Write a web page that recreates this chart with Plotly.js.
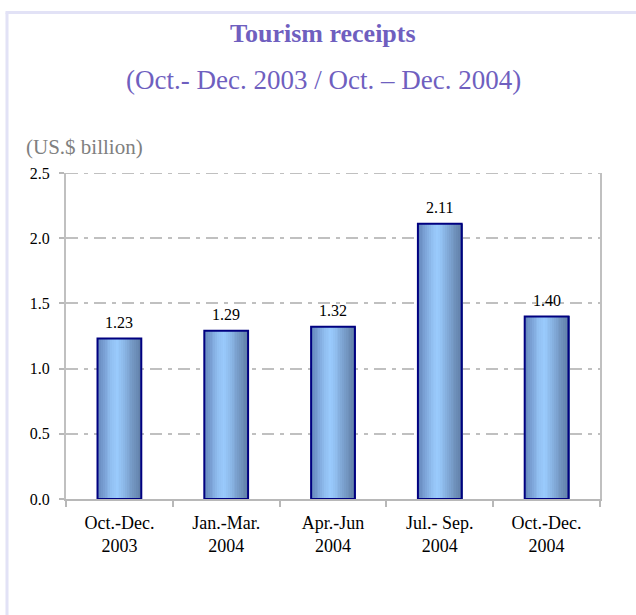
<!DOCTYPE html>
<html>
<head>
<meta charset="utf-8">
<script src="https://cdn.plot.ly/plotly-3.0.1.min.js"></script>
<style>html,body{margin:0;padding:0;background:#fff}#chart{width:636px;height:615px}</style>
</head>
<body>
<div id="chart"></div>
<script>
// ---- data ----
const categories = ["Oct.-Dec.<br>2003", "Jan.-Mar.<br>2004", "Apr.-Jun<br>2004", "Jul.- Sep.<br>2004", "Oct.-Dec.<br>2004"];
const receipts = [1.23, 1.29, 1.32, 2.11, 1.40];
const valueLabels = ["1.23", "1.29", "1.32", "2.11", "1.40"];
const yTickVals = [0, 0.5, 1.0, 1.5, 2.0, 2.5];
const yMax = 2.5;
const titleText = "Tourism receipts";
const subtitleText = "(Oct.- Dec. 2003 / Oct. – Dec. 2004)";
const unitText = "(US.$ billion)";

// ---- styling ----
const serif = "Liberation Serif, Times New Roman, serif";
const W = 636, H = 615;
const M = {l: 66, r: 36, t: 173, b: 116};
const pw = W - M.l - M.r, ph = H - M.t - M.b;
const px2x = p => (p - M.l) / pw;
const py2y = p => (H - M.b - p) / ph;

const barWidth = 0.41;
// horizontal gradient stops (position 0..1, rgb)
const stops = [
  [0.00, [100, 134, 186]],
  [0.15, [122, 160, 212]],
  [0.32, [146, 192, 242]],
  [0.45, [154, 203, 253]],
  [0.60, [140, 184, 232]],
  [0.78, [118, 154, 198]],
  [1.00, [96, 126, 166]]
];
function gradColor(t) {
  for (let i = 1; i < stops.length; i++) {
    if (t <= stops[i][0]) {
      const [t0, c0] = stops[i - 1], [t1, c1] = stops[i];
      const f = (t - t0) / (t1 - t0);
      const c = c0.map((v, k) => Math.round(v + (c1[k] - v) * f));
      return `rgb(${c[0]},${c[1]},${c[2]})`;
    }
  }
  const c = stops[stops.length - 1][1];
  return `rgb(${c[0]},${c[1]},${c[2]})`;
}

const traces = [];
const nStrips = 24;
const sw = barWidth / nStrips;
for (let i = 0; i < nStrips; i++) {
  traces.push({
    type: "bar",
    x: categories,
    y: receipts,
    width: sw * 1.6,
    offset: -barWidth / 2 + i * sw,
    marker: {color: gradColor((i + 0.5) / nStrips), line: {width: 0}},
    hoverinfo: "skip",
    showlegend: false
  });
}
// outline on top
traces.push({
  type: "bar",
  x: categories,
  y: receipts,
  width: barWidth,
  offset: -barWidth / 2,
  marker: {color: "rgba(0,0,0,0)", line: {color: "#000080", width: 2}},
  showlegend: false
});

const annotations = receipts.map((v, i) => ({
  x: categories[i], y: v, xref: "x", yref: "y",
  text: valueLabels[i], showarrow: false,
  yanchor: "middle", yshift: 16,
  font: {family: serif, size: 16, color: "#000"}
}));
annotations.push({
  x: px2x(323), y: py2y(33), xref: "paper", yref: "paper",
  text: "<b>" + titleText + "</b>", showarrow: false,
  xanchor: "center", yanchor: "middle",
  font: {family: serif, size: 26, color: "#6f5fbf"}
});
annotations.push({
  x: px2x(323), y: py2y(80), xref: "paper", yref: "paper",
  text: subtitleText, showarrow: false,
  xanchor: "center", yanchor: "middle",
  font: {family: serif, size: 27, color: "#6f5fbf"}
});
annotations.push({
  x: px2x(24), y: py2y(147), xref: "paper", yref: "paper",
  text: unitText, showarrow: false,
  xanchor: "left", yanchor: "middle",
  font: {family: serif, size: 21, color: "#808080"}
});

const borderColor = "#e2e2f6";
const shapes = [
  {type: "line", xref: "paper", yref: "paper", x0: px2x(7), x1: px2x(7), y0: py2y(620), y1: py2y(12.5),
   line: {color: borderColor, width: 3}},
  {type: "line", xref: "paper", yref: "paper", x0: px2x(5.5), x1: px2x(640), y0: py2y(12.5), y1: py2y(12.5),
   line: {color: borderColor, width: 3}},
  {type: "line", xref: "paper", yref: "y", x0: 0, x1: 1, y0: yMax, y1: yMax,
   line: {color: "#c0c0c0", width: 2, dash: "12px,6px,4px,6px"}}
];

const layout = {
  width: W, height: H,
  margin: M,
  paper_bgcolor: "#fff", plot_bgcolor: "#fff",
  barmode: "overlay",
  bargap: 0,
  showlegend: false,
  font: {family: serif, color: "#000"},
  xaxis: {
    type: "category",
    showline: true, linecolor: "#b8b8b8", linewidth: 2,
    ticks: "outside", tickson: "boundaries", ticklen: 6, tickcolor: "#b8b8b8", tickwidth: 2,
    showgrid: false, zeroline: false,
    tickfont: {family: serif, size: 18, color: "#000"},
    ticklabelstandoff: 6
  },
  yaxis: {
    range: [0, yMax], tickvals: yTickVals, tickformat: ".1f",
    showline: true, mirror: true, linecolor: "#c0c0c0", linewidth: 2,
    ticks: "outside", ticklen: 5, tickcolor: "#b8b8b8", tickwidth: 2,
    showgrid: true, gridcolor: "#c0c0c0", gridwidth: 2, griddash: "12px,6px,4px,6px",
    zeroline: false,
    tickfont: {family: serif, size: 16, color: "#000"},
    ticklabelstandoff: 6
  },
  annotations: annotations,
  shapes: shapes
};

Plotly.newPlot("chart", traces, layout, {displayModeBar: false, staticPlot: true});
</script>
</body>
</html>
